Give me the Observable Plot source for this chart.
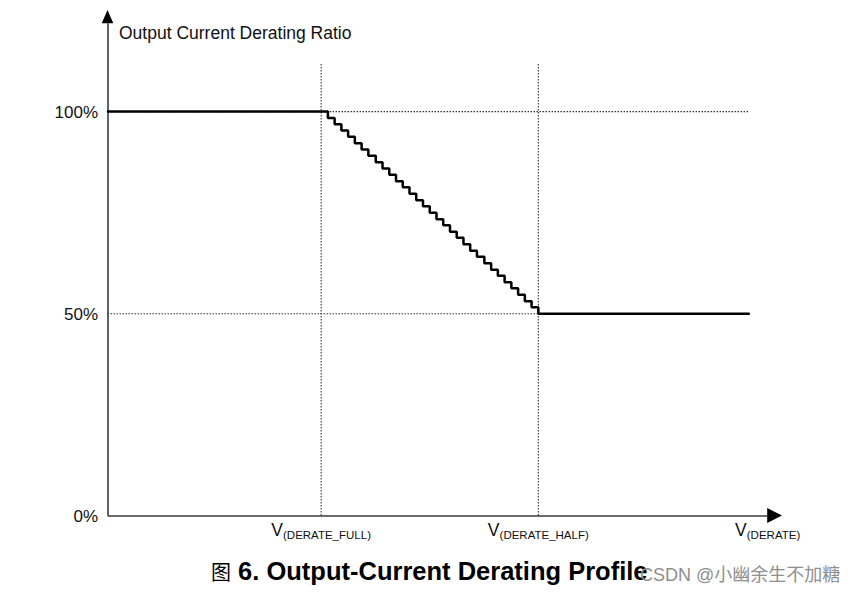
<!DOCTYPE html>
<html>
<head>
<meta charset="utf-8">
<script src="https://cdn.jsdelivr.net/npm/d3@7"></script>
<script src="https://cdn.jsdelivr.net/npm/@observablehq/plot@0.6"></script>
<style>
  html, body { margin: 0; padding: 0; background: #fff; }
  #wrap { position: relative; width: 859px; height: 596px; overflow: hidden; }
  #title { position: absolute; left: 211px; top: 559px; font-family: "Liberation Sans", Arial, sans-serif; font-size: 25.5px; font-weight: bold; color: #000; line-height: 1; white-space: nowrap; }
  #title .cjk { font-family: "Noto Sans CJK SC", sans-serif; font-weight: normal; font-size: 20px; }
  #mark { position: absolute; left: 640px; top: 566px; font-family: "Liberation Sans", "Noto Sans CJK SC", sans-serif; font-size: 18px; color: #8f8f8f; line-height: 1; white-space: nowrap; }
</style>
</head>
<body>
<div id="wrap">
  <div id="chart"></div>
  <div id="title"><span class="cjk">图</span> 6. Output-Current Derating Profile</div>
  <div id="mark">CSDN @小幽余生不加糖</div>
</div>
<script>
// ---- data ----
const yTickValues = [0, 50, 100];
const yTickLabels = ["0%", "50%", "100%"];
const yAxisTitle = "Output Current Derating Ratio";

const markerVoltages = [31.6, 63.8]; // V(DERATE_FULL), V(DERATE_HALF)
const xLabelPos = [31.6, 63.8, 97.8];
const xLabelMain = ["V", "V", "V"];
const xLabelSub = ["(DERATE_FULL)", "(DERATE_HALF)", "(DERATE)"];

// staircase profile: voltage at each step, ratio (%) after the step
const stepVoltage = [0, 32.6, 33.6, 34.6, 35.6, 36.6, 37.6, 38.6, 39.7, 40.7, 41.7, 42.7, 43.7, 44.7, 45.7, 46.7, 47.7,
  48.7, 49.7, 50.7, 51.7, 52.7, 53.7, 54.7, 55.8, 56.8, 57.8, 58.8, 59.8, 60.8, 61.8, 62.8, 63.8, 95.0];
const stepRatio = [100, 98.4, 96.9, 95.3, 93.8, 92.2, 90.6, 89.1, 87.5, 85.9, 84.4, 82.8, 81.3, 79.7, 78.1, 76.6, 75.0,
  73.4, 71.9, 70.3, 68.8, 67.2, 65.6, 64.1, 62.5, 60.9, 59.4, 57.8, 56.3, 54.7, 53.1, 51.6, 50.0, 50.0];

// reference (dotted) lines
const refLevels = [100, 50];
const refLevelEnd = [95.0, 63.8];
const refVerticalTop = 112;

// axis extents and arrowheads
const xAxisEnd = 97.8, xArrowTip = 100, xArrowHalf = 1.85;
const yAxisEnd = 121.7, yArrowTip = 125, yArrowHalf = 0.86;

const profile = stepVoltage.map((v, i) => ({v, r: stepRatio[i]}));
const xArrow = [{x: xAxisEnd, y1: -xArrowHalf, y2: xArrowHalf}, {x: xArrowTip, y1: 0, y2: 0}];
const yArrow = [{y: yAxisEnd, x1: -yArrowHalf, x2: yArrowHalf}, {y: yArrowTip, x1: 0, x2: 0}];
const xLabels = xLabelPos.map((x, i) => ({x, main: xLabelMain[i], sub: xLabelSub[i]}));
const dotted = {stroke: "#333", strokeWidth: 1.1, strokeDasharray: "1.5,1.5"};

const chart = Plot.plot({
  width: 859,
  height: 550,
  marginLeft: 107.5,
  marginRight: 77,
  marginTop: 10,
  marginBottom: 34.5,
  style: {fontFamily: "'Liberation Sans', Arial, sans-serif", background: "#fff", color: "#000"},
  x: {domain: [0, 100], axis: null},
  y: {domain: [0, 125], axis: null},
  marks: [
    // dotted guides
    Plot.ruleX(markerVoltages, {x: d => d, y1: 0, y2: refVerticalTop, ...dotted}),
    Plot.ruleY(refLevels, {y: d => d, x1: 0, x2: (d, i) => refLevelEnd[i], ...dotted}),
    // axes
    Plot.ruleY([0], {x1: 0, x2: xAxisEnd, stroke: "#3a3a3a", strokeWidth: 1.6}),
    Plot.ruleX([0], {y1: 0, y2: yAxisEnd, stroke: "#3a3a3a", strokeWidth: 1.6}),
    Plot.areaY(xArrow, {x: "x", y1: "y1", y2: "y2", fill: "#000"}),
    Plot.areaX(yArrow, {y: "y", x1: "x1", x2: "x2", fill: "#000"}),
    // profile
    Plot.line(profile, {x: "v", y: "r", curve: "step-after", stroke: "#000", strokeWidth: 2.5, strokeLinejoin: "miter"}),
    // y tick labels
    Plot.text(yTickValues, {x: 0, y: d => d, text: (d, i) => yTickLabels[i], textAnchor: "end", dx: -10, dy: 0.5, fontSize: 17, fill: "#111"}),
    // y axis title
    Plot.text([yAxisTitle], {x: 0, y: 119.4, text: d => d, textAnchor: "start", dx: 11, fontSize: 17.5, fill: "#111"}),
    // x labels (with subscript, split after render)
    Plot.text(xLabels, {x: "x", y: 0, text: d => d.main + d.sub, textAnchor: "middle", lineAnchor: "bottom", dy: 20, fontSize: 17, fill: "#111", ariaDescription: "x-labels"})
  ]
});

document.getElementById("chart").appendChild(chart);

// split x labels into main letter + subscript
const NS = "http://www.w3.org/2000/svg";
const labelTexts = Array.from(chart.querySelectorAll("text")).filter(t => xLabels.some(d => t.textContent === d.main + d.sub));
labelTexts.forEach(t => {
  const d = xLabels.find(d => t.textContent === d.main + d.sub);
  t.textContent = "";
  const a = document.createElementNS(NS, "tspan");
  a.textContent = d.main;
  a.setAttribute("font-size", "17.5");
  const b = document.createElementNS(NS, "tspan");
  b.textContent = d.sub;
  b.setAttribute("font-size", "11.5");
  b.setAttribute("dy", "2.5");
  t.appendChild(a);
  t.appendChild(b);
});
</script>
</body>
</html>
